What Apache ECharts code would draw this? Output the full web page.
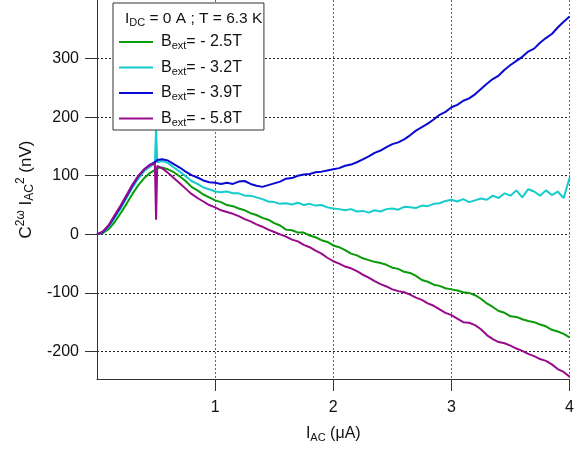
<!DOCTYPE html>
<html><head><meta charset="utf-8">
<script src="https://cdn.jsdelivr.net/npm/echarts@6/dist/echarts.min.js"></script>
<style>html,body{margin:0;padding:0;background:#fff}#c{width:577px;height:452px}</style>
</head><body><div id="c"></div>
<script>
// I_AC (µA) sampling grid
const xValues = [0,0.05,0.1,0.15,0.2,0.25,0.3,0.35,0.4,0.45,0.49,0.5,0.51,
  0.55,0.6,0.65,0.7,0.75,0.8,0.85,0.9,0.95,1.0,
  1.05,1.1,1.15,1.2,1.25,1.3,1.35,1.4,1.45,1.5,
  1.55,1.6,1.65,1.7,1.75,1.8,1.85,1.9,1.95,2.0,
  2.05,2.1,2.15,2.2,2.25,2.3,2.35,2.4,2.45,2.5,
  2.55,2.6,2.65,2.7,2.75,2.8,2.85,2.9,2.95,3.0,
  3.05,3.1,3.15,3.2,3.25,3.3,3.35,3.4,3.45,3.5,
  3.55,3.6,3.65,3.7,3.75,3.8,3.85,3.9,3.95,4.0];

// C^2w I_AC^2 (nV)
const green25 = [0,2,9,21,36,52,69,84,96,105,110,111,113,
  114,111,106,99,91,81,75,68,63,58,
  55,50,48,44,41,36,33,28,25,19,
  15,8,7,3,3,-2,-5,-10,-13,-19,
  -22,-27,-33,-36,-41,-44,-47,-49,-52,-57,
  -59,-64,-66,-71,-78,-81,-86,-88,-92,-94,
  -96,-99,-100,-104,-110,-118,-124,-131,-134,-140,
  -141,-145,-148,-150,-154,-157,-163,-166,-170,-176];
const cyan32 = [0,3,13,28,44,62,80,95,108,116,121,178,123,
  125,122,114,107,99,91,86,80,77,73,
  72,73,70,70,66,66,63,60,56,55,
  52,53,51,54,50,52,49,50,46,44,
  43,41,43,39,40,37,41,39,43,44,
  42,47,46,45,49,48,52,53,57,59,
  56,60,55,58,61,59,66,62,70,66,
  75,63,77,73,66,75,67,73,62,96];
const blue39 = [0,4,15,31,47,65,83,99,111,119,123,126,127,
  128,126,120,114,107,101,97,92,89,88,
  86,88,86,90,91,86,83,81,84,87,
  90,95,96,100,102,103,106,107,109,111,
  113,117,119,123,128,133,139,143,149,154,
  157,162,169,177,183,189,196,204,209,217,
  221,228,232,239,248,257,265,271,281,289,
  296,303,312,317,327,335,342,353,363,372];
const purple58 = [0,5,16,33,49,67,85,100,111,118,121,25,117,
  113,105,96,87,78,69,62,56,50,46,
  41,38,35,31,26,22,17,13,8,4,
  0,-4,-9,-12,-18,-22,-28,-33,-40,-46,
  -50,-55,-58,-63,-69,-74,-80,-85,-89,-94,
  -97,-99,-103,-108,-112,-118,-122,-128,-134,-138,
  -144,-150,-151,-155,-162,-172,-179,-184,-186,-190,
  -195,-199,-204,-208,-213,-216,-222,-230,-235,-243];

const fieldLabels = ['- 2.5T', '- 3.2T', '- 3.9T', '- 5.8T'];
const seriesValues = [green25, cyan32, blue39, purple58];
const seriesColors = ['#0a9a0a', '#14cccc', '#0a0ad2', '#990a8c'];
const yTickValues = [-200, -100, 0, 100, 200, 300];
const xTickValues = [1, 2, 3, 4];

const FONT = '"Liberation Sans", Arial, Helvetica, sans-serif';
const TXT = '#111';
const rich = {
  b: { fontSize: 16, fontFamily: FONT, color: TXT, fontWeight: 'normal' },
  sub: { fontSize: 11, fontFamily: FONT, color: TXT, fontWeight: 'normal', padding: [8, 0, 0, 0] },
  sup: { fontSize: 11, fontFamily: FONT, color: TXT, fontWeight: 'normal', padding: [0, 0, 9, 0] }
};
const richT = {
  b: { fontSize: 15.5, fontFamily: FONT, color: TXT, fontWeight: 'normal' },
  sub: { fontSize: 11, fontFamily: FONT, color: TXT, fontWeight: 'normal', padding: [8, 0, 0, 0] }
};
const richY = {
  b: { fontSize: 17, fontFamily: FONT, color: TXT },
  sub: { fontSize: 12, fontFamily: FONT, color: TXT, padding: [8, 0, 0, 0] },
  sup: { fontSize: 12, fontFamily: FONT, color: TXT, padding: [0, 0, 10, 0] }
};

const names = fieldLabels.map(v => 'Bext= ' + v);
const series = seriesValues.map((vals, i) => ({
  name: names[i],
  type: 'line',
  symbol: 'none',
  showSymbol: false,
  data: xValues.map((x, j) => [x, vals[j]]),
  lineStyle: { color: seriesColors[i], width: 2 },
  itemStyle: { color: seriesColors[i] },
  z: 2 + i,
  animation: false
}));

const chart = echarts.init(document.getElementById('c'), null, { renderer: 'canvas' });
chart.setOption({
  animation: false,
  backgroundColor: '#fff',
  grid: { left: 97, right: 0, top: -1, bottom: 73, containLabel: false },
  title: {
    text: '{b|I}{sub|DC}{b| = 0 A ; T = 6.3 K}',
    left: 125, top: 9, padding: 0, z: 10,
    textStyle: { fontWeight: 'normal', rich: richT }
  },
  legend: {
    orient: 'vertical', left: 113, top: 3,
    data: names,
    icon: 'path://M0,0H34V2H0Z',
    symbolKeepAspect: true,
    itemWidth: 34, itemHeight: 14, itemGap: 8,
    padding: [31, 22, 2, 6],
    borderColor: '#333', borderWidth: 1, borderRadius: 0,
    backgroundColor: '#fff',
    selectedMode: false,
    formatter: n => '{b|B}{sub|ext}{b|=' + n.slice(5) + '}',
    textStyle: { rich: rich, padding: [0, 0, 0, 3] }
  },
  xAxis: {
    type: 'value', min: 0, max: 4, interval: 1,
    name: '{b|I}{sub|AC}{b| (μA)}',
    nameLocation: 'middle', nameGap: 45,
    nameTextStyle: { rich: rich },
    axisLine: { show: true, onZero: false, lineStyle: { color: '#333', width: 1 } },
    axisTick: { show: true, inside: false, length: 12, customValues: xTickValues, lineStyle: { color: '#333' } },
    axisLabel: { customValues: xTickValues, margin: 21, fontSize: 16, fontFamily: FONT, color: TXT },
    splitLine: { show: true, lineStyle: { color: '#666', type: [2, 2], width: 1 } }
  },
  yAxis: {
    type: 'value', min: -247, max: 400,
    name: '{b|C}{sup|2ω}{b| I}{sub|AC}{sup|2}{b| (nV)}',
    nameLocation: 'middle', nameGap: 52,
    nameTextStyle: { rich: richY },
    axisLine: { show: true, onZero: false, lineStyle: { color: '#333', width: 1 } },
    axisTick: { show: true, inside: false, length: 12, customValues: yTickValues, lineStyle: { color: '#333' } },
    axisLabel: { customValues: yTickValues, margin: 18, fontSize: 16, fontFamily: FONT, color: TXT },
    splitLine: { show: true, lineStyle: { color: '#222', type: [2, 2], width: 1 } }
  },
  series: series
});
</script>
</body></html>
